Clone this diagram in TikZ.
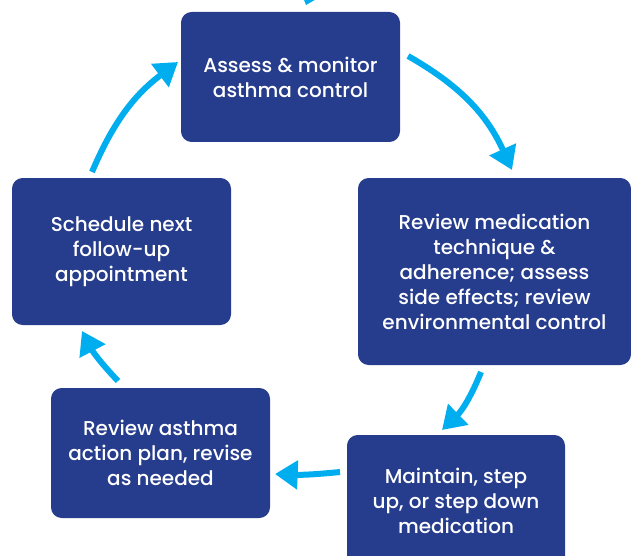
\documentclass[tikz,border=0pt]{standalone}
\usepackage{fontspec}
\setmainfont{Poppins Medium}
\usetikzlibrary{arrows.meta, positioning}

\definecolor{boxblue}{RGB}{38,60,140}
\definecolor{arrowblue}{RGB}{0,174,239}

\tikzset{
    stepbox/.style={fill=boxblue, rounded corners=8, text=white, align=center,
        font=\fontsize{15}{18.75}\selectfont, inner sep=0pt},
    cyclearrow/.style={draw=arrowblue, line width=4.5pt,
        -{Triangle[length=17pt,width=21pt]}},
}

\begin{document}
\begin{tikzpicture}[x=0.75pt, y=-0.75pt]
    \useasboundingbox (0,0) rectangle (631,556);

    % boxes
    \node[stepbox, minimum width=164.25pt, minimum height=97.5pt] (assess) at (290.5,77)
        {Assess \& monitor\\asthma control};
    \node[stepbox, minimum width=204.75pt, minimum height=140.25pt] (review) at (494.5,271.5)
        {Review medication\\technique \&\\adherence; assess\\side effects; review\\environmental control};
    \node[stepbox, minimum width=163.5pt, minimum height=99pt] (maintain) at (456,501)
        {Maintain, step\\up, or step down\\medication};
    \node[stepbox, minimum width=164.25pt, minimum height=97.5pt] (plan) at (160.5,453)
        {Review asthma\\action plan, revise\\as needed};
    \node[stepbox, minimum width=164.25pt, minimum height=110.25pt] (followup) at (121.5,251.5)
        {Schedule next\\follow-up\\appointment};

    % arrow ends
    \coordinate (a1s) at (408,56);
    \coordinate (a1e) at (512,170);
    \coordinate (a2s) at (481,372);
    \coordinate (a2e) at (442,430);
    \coordinate (a3s) at (340,472);
    \coordinate (a3e) at (275,474);
    \coordinate (a4s) at (118,381);
    \coordinate (a4e) at (82,331);
    \coordinate (a5s) at (92,172);
    \coordinate (a5e) at (178,62);

    \draw[cyclearrow] (a1s) to[bend left=18] (a1e);
    \draw[cyclearrow] (a2s) to[bend left=12] (a2e);
    \draw[cyclearrow] (a3s) to[bend left=4] (a3e);
    \draw[cyclearrow] (a4s) to[bend left=8] (a4e);
    \draw[cyclearrow] (a5s) to[bend left=15] (a5e);

    % cut-off tip at the top edge
    \fill[arrowblue] (298,-16) -- (320,-3) -- (306,5) -- cycle;
\end{tikzpicture}
\end{document}
